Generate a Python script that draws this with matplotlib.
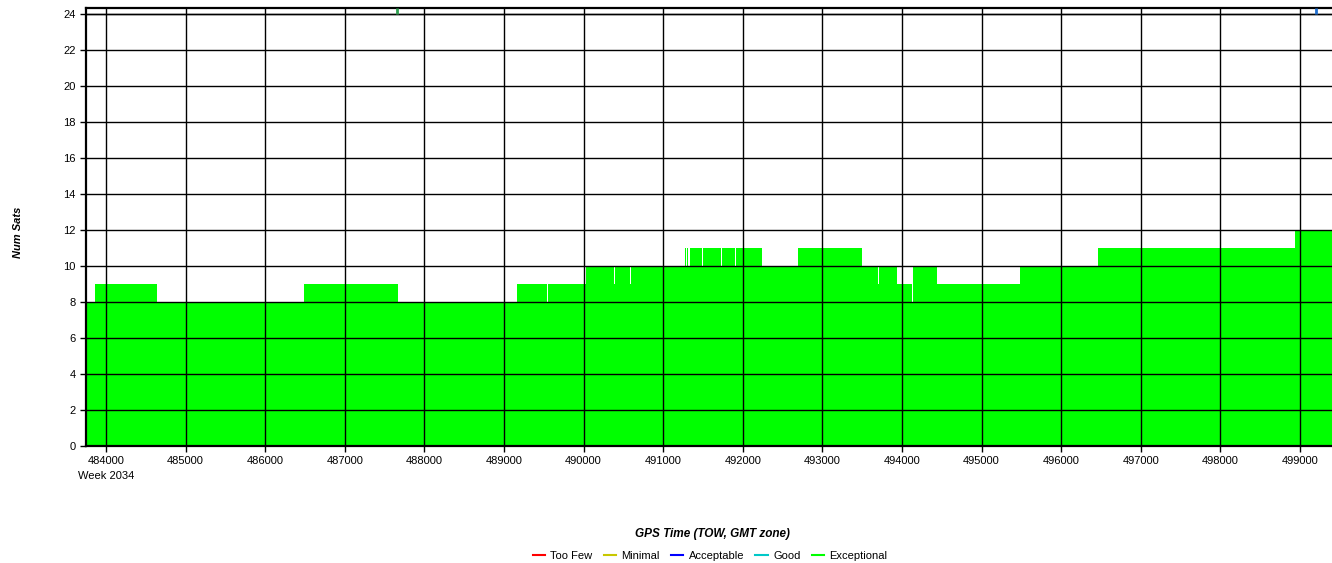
import matplotlib.pyplot as plt
import numpy as np

# step changes in number of satellites (GPS time of week, seconds)
tow = [483749, 483862, 484641, 486487, 487668, 489163, 489535, 489550,
       490035, 490388, 490400, 490577, 490590, 491274, 491287, 491299,
       491312, 491337, 491487, 491505, 491722, 491735, 491900, 491920,
       492241, 492694, 493498, 493693, 493705, 493937, 494120, 494135,
       494440, 495483, 496462, 498937, 499402]
num_sats = [8, 9, 8, 9, 8, 9, 8, 9,
            10, 9, 10, 9, 10, 11, 10, 11,
            10, 11, 10, 11, 10, 11, 10, 11,
            10, 11, 10, 9, 10, 9, 8, 10,
            9, 10, 11, 12, 12]

# event marks on the top strip
marker_tow = [487656, 499201]
marker_colors = ["#2e9e4f", "#1f6fd0"]

x_ticks = np.arange(484000, 499001, 1000)
y_ticks = np.arange(0, 25, 2)

legend_names = ["Too Few", "Minimal", "Acceptable", "Good", "Exceptional"]
legend_colors = ["#ff0000", "#c8c800", "#0000ff", "#00c8c8", "#00ff00"]

plt.rcParams["font.family"] = ["Liberation Sans", "DejaVu Sans"]

fig = plt.figure(figsize=(13.32, 5.63), dpi=100)
ax = fig.add_axes([86 / 1332, 117 / 563, 1246 / 1332, 438 / 563])

ax.fill_between(tow, num_sats, 0, step="post", color="#00ff00", lw=0, zorder=1)

ax.set_xlim(483749, 499402)
ax.set_ylim(0, 24.333)
ax.set_xticks(x_ticks)
ax.set_yticks(y_ticks)
ax.set_xticklabels([str(t) for t in x_ticks])
ax.grid(True, color="black", lw=1, zorder=2)
ax.set_axisbelow(False)
ax.axhline(24, color="black", lw=1, zorder=2)

for t, c in zip(marker_tow, marker_colors):
    ax.vlines(t, 24.0, 24.333, color=c, lw=2, zorder=3)

for side in ["left", "bottom", "top"]:
    ax.spines[side].set_linewidth(1.6)
    ax.spines[side].set_color("black")
ax.spines["right"].set_visible(False)

ax.tick_params(axis="both", labelsize=8, length=4, width=1, colors="black")

ax.set_xlabel("GPS Time (TOW, GMT zone)", fontsize=8.5, fontweight="bold",
              fontstyle="italic")
ax.xaxis.set_label_coords(0.503, -0.187)
ax.set_ylabel("Num Sats", fontsize=8, fontweight="bold", fontstyle="italic")
ax.yaxis.set_label_coords(-0.0505, 0.489)

fig.text(106 / 1332, 1 - 476 / 563, "Week 2034", fontsize=8,
         ha="center", va="center")

handles = [plt.Line2D([], [], color=c, lw=1.5) for c in legend_colors]
fig.legend(handles, legend_names, loc="center", bbox_to_anchor=(710 / 1332, 1 - 556 / 563),
           ncol=5, frameon=False, fontsize=8, handlelength=1.1, handletextpad=0.5,
           columnspacing=1.0)

fig.savefig("out.png", dpi=100)
